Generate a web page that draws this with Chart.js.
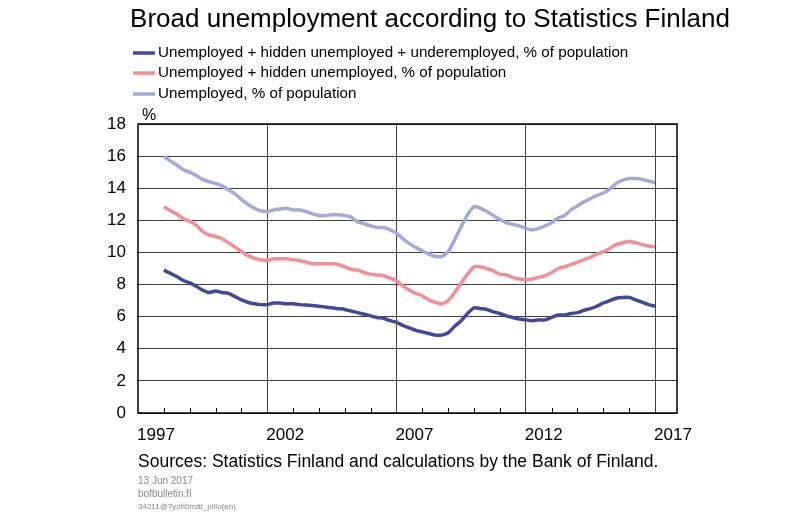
<!DOCTYPE html>
<html>
<head>
<meta charset="utf-8">
<title>Broad unemployment according to Statistics Finland</title>
<script src="https://cdn.jsdelivr.net/npm/chart.js@4"></script>
<style>
  html, body { margin:0; padding:0; background:#fff; }
  #c { display:block; }
</style>
</head>
<body>
<canvas id="c" width="800" height="523"></canvas>
<script>
// quarterly observations, 1998Q1 .. 2017Q1
const startYear = 1998;
const broad = [ // unemployed + hidden unemployed + underemployed
  8.9, 8.7, 8.5, 8.25, 8.1, 7.9, 7.65, 7.5, 7.6, 7.5, 7.45, 7.25, 7.05, 6.9, 6.8, 6.75,
  6.75, 6.85, 6.85, 6.8, 6.8, 6.75, 6.72, 6.7, 6.65, 6.6, 6.55, 6.5, 6.45, 6.35, 6.25, 6.15,
  6.05, 5.95, 5.9, 5.75, 5.65, 5.45, 5.3, 5.15, 5.05, 4.95, 4.85, 4.85, 5.0, 5.4, 5.75, 6.2,
  6.55, 6.5, 6.45, 6.3, 6.2, 6.05, 5.95, 5.85, 5.8, 5.75, 5.8, 5.8, 5.95, 6.1, 6.1, 6.2,
  6.25, 6.4, 6.5, 6.65, 6.85, 7.0, 7.15, 7.2, 7.2, 7.05, 6.9, 6.75, 6.65
];
const hidden = [ // unemployed + hidden unemployed
  12.85, 12.6, 12.4, 12.1, 11.95, 11.7, 11.3, 11.1, 11.0, 10.85, 10.6, 10.35, 10.05, 9.8, 9.65, 9.55,
  9.5, 9.6, 9.6, 9.6, 9.55, 9.5, 9.4, 9.3, 9.3, 9.3, 9.3, 9.25, 9.1, 8.95, 8.9, 8.75,
  8.65, 8.6, 8.55, 8.4, 8.25, 7.9, 7.65, 7.45, 7.3, 7.05, 6.9, 6.8, 7.0, 7.5, 8.1, 8.65,
  9.1, 9.1, 9.0, 8.85, 8.65, 8.6, 8.45, 8.35, 8.3, 8.35, 8.45, 8.55, 8.75, 9.0, 9.1, 9.25,
  9.4, 9.55, 9.7, 9.9, 10.05, 10.25, 10.5, 10.6, 10.7, 10.6, 10.5, 10.4, 10.35
];
const unemployed = [
  16.0, 15.7, 15.45, 15.15, 15.0, 14.8, 14.55, 14.4, 14.3, 14.15, 13.9, 13.65, 13.3, 13.0, 12.75, 12.6,
  12.55, 12.65, 12.7, 12.75, 12.65, 12.65, 12.55, 12.4, 12.3, 12.3, 12.35, 12.35, 12.3, 12.2, 11.9, 11.8,
  11.65, 11.55, 11.55, 11.4, 11.2, 10.85, 10.55, 10.3, 10.1, 9.9, 9.75, 9.75, 10.05, 10.8, 11.6, 12.35,
  12.85, 12.75, 12.55, 12.3, 12.05, 11.85, 11.75, 11.65, 11.5, 11.4, 11.5, 11.65, 11.85, 12.15, 12.3, 12.65,
  12.9, 13.15, 13.35, 13.55, 13.7, 13.95, 14.3, 14.5, 14.6, 14.6, 14.55, 14.45, 14.35
];
const seriesLabels = [
  "Unemployed + hidden unemployed + underemployed, % of population",
  "Unemployed + hidden unemployed, % of population",
  "Unemployed, % of population"
];
const seriesColors = ["#3f4a9e", "#f28f95", "#a3a9d9"];
const yearTicks = [1997, 2002, 2007, 2012, 2017];
const minorYears = [1998,1999,2000,2001,2003,2004,2005,2006,2008,2009,2010,2011,2013,2014,2015,2016];

const FONT = "Arial, 'Liberation Sans', sans-serif";
const quarters = broad.map((_, i) => startYear + i / 4);
const toPts = arr => arr.map((v, i) => ({ x: quarters[i], y: v }));

const overlay = {
  id: "overlay",
  afterDraw(chart) {
    const ctx = chart.ctx, a = chart.chartArea, xs = chart.scales.x;
    ctx.save();
    // minor year ticks on the bottom axis
    ctx.strokeStyle = "#000"; ctx.lineWidth = 1;
    minorYears.forEach(y => {
      const px = Math.round(xs.getPixelForValue(y)) + 0.5;
      ctx.beginPath(); ctx.moveTo(px, a.bottom); ctx.lineTo(px, a.bottom - 5); ctx.stroke();
    });
    // frame
    ctx.lineWidth = 1.5; ctx.strokeStyle = "#000";
    ctx.strokeRect(a.left, a.top, a.right - a.left, a.bottom - a.top);

    ctx.fillStyle = "#000"; ctx.textBaseline = "middle";
    ctx.textAlign = "center";
    ctx.font = "26px " + FONT;
    ctx.fillText("Broad unemployment according to Statistics Finland", 430, 20);

    ctx.textAlign = "left";
    ctx.font = "15.2px " + FONT;
    const ly = [53, 73, 94];
    chart.data.datasets.forEach((ds, i) => {
      ctx.strokeStyle = ds.borderColor; ctx.lineWidth = 3.5;
      ctx.beginPath(); ctx.moveTo(133, ly[i]); ctx.lineTo(155, ly[i]); ctx.stroke();
      ctx.fillText(ds.label, 158, ly[i]);
    });
    ctx.font = "16px " + FONT;
    ctx.fillText("%", 142, 116);

    ctx.font = "17.5px " + FONT;
    ctx.fillText("Sources: Statistics Finland and calculations by the Bank of Finland.", 138, 462);

    ctx.fillStyle = "#888";
    ctx.font = "10px " + FONT;
    ctx.fillText("13 Jun 2017", 138, 481);
    ctx.fillText("bofbulletin.fi", 138, 494);
    ctx.font = "8px " + FONT;
    ctx.fillText("34211@Työttömät_piilo(en)", 138, 507);
    ctx.restore();
  }
};

new Chart(document.getElementById("c"), {
  type: "line",
  data: {
    datasets: [broad, hidden, unemployed].map((arr, i) => ({
      label: seriesLabels[i],
      data: toPts(arr),
      borderColor: seriesColors[i],
      borderWidth: 3.5,
      pointRadius: 0,
      tension: 0.25,
      fill: false
    }))
  },
  options: {
    responsive: false,
    animation: false,
    devicePixelRatio: 1,
    layout: { padding: { top: 124, right: 123, left: 0, bottom: 0 } },
    plugins: { legend: { display: false }, tooltip: { enabled: false } },
    scales: {
      x: {
        type: "linear", min: 1997, max: 2017.85,
        afterBuildTicks: s => { s.ticks = yearTicks.map(v => ({ value: v })); },
        afterFit: s => { s.height = 110; },
        grid: { color: c => (c.tick && c.tick.value === 1997) ? "rgba(0,0,0,0)" : "#404040", lineWidth: 1, drawTicks: false },
        border: { display: false },
        ticks: { color: "#000", font: { family: FONT, size: 17 }, padding: 12, labelOffset: 18,
                 maxRotation: 0, autoSkip: false, callback: v => String(v) }
      },
      y: {
        min: 0, max: 18,
        afterFit: s => { s.width = 138; },
        grid: { color: "#404040", lineWidth: 1, drawTicks: false },
        border: { display: false },
        ticks: { stepSize: 2, color: "#000", font: { family: FONT, size: 17 }, padding: 12 }
      }
    }
  },
  plugins: [overlay]
});
</script>
</body>
</html>
